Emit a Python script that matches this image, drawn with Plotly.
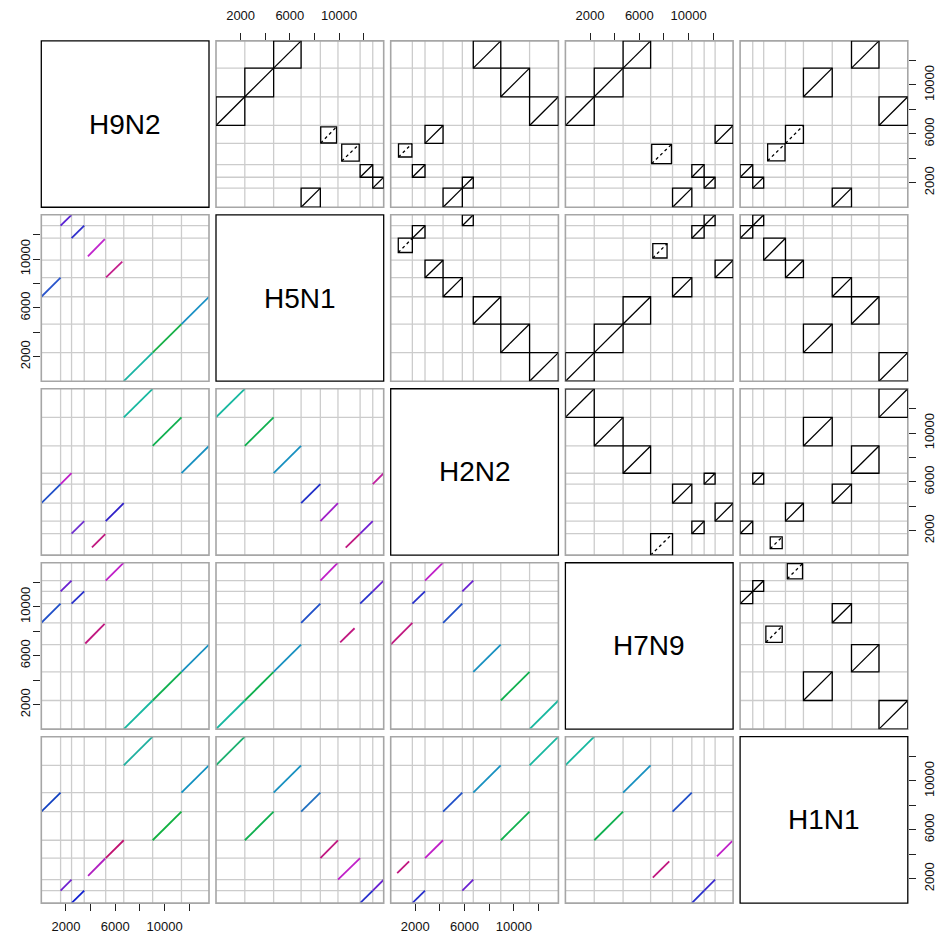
import plotly.graph_objects as go

# ---------------- data ----------------
genomes = ["H9N2", "H5N1", "H2N2", "H7N9", "H1N1"]

h9n2_segments = ["NP", "NS", "M", "HA", "NA", "PB2", "PB1", "PA"]
h9n2_lengths = [1565, 890, 1027, 1742, 1467, 2341, 2341, 2233]
h5n1_segments = ["PB2", "PB1", "PA", "NP", "NA", "HA", "M", "NS"]
h5n1_lengths = [2341, 2341, 2233, 1565, 1430, 1800, 1027, 890]
h2n2_segments = ["HA", "M", "NA", "NP", "NS", "PA", "PB1", "PB2"]
h2n2_lengths = [1760, 1027, 1467, 1565, 890, 2233, 2341, 2341]
h7n9_segments = ["PB2", "PB1", "PA", "HA", "NP", "M", "NS", "NA"]
h7n9_lengths = [2341, 2341, 2233, 1780, 1565, 1000, 890, 1460]
h1n1_segments = ["M", "NS", "HA", "NA", "PB1", "NP", "PA", "PB2"]
h1n1_lengths = [1027, 890, 1770, 1458, 2341, 1565, 2233, 2341]

tick_values = [2000, 4000, 6000, 8000, 10000, 12000]
tick_labels = ["2000", "", "6000", "", "10000", ""]

# hits: (segment, start fraction, end fraction, line style)
hits_h9n2_h5n1 = [("PB2", 0, 1, "solid"), ("PB1", 0, 1, "solid"), ("PA", 0, 1, "solid"),
                  ("NP", 0, 1, "solid"), ("NA", 0.02, 0.92, "dot"), ("HA", 0.17, 0.96, "dot"),
                  ("M", 0, 1, "solid"), ("NS", 0, 1, "solid")]
hits_h9n2_h2n2 = [("PB2", 0, 1, "solid"), ("PB1", 0, 1, "solid"), ("PA", 0, 1, "solid"),
                  ("NP", 0, 1, "solid"), ("NA", 0, 1, "solid"), ("HA", 0.36, 0.98, "dot"),
                  ("M", 0, 1, "solid"), ("NS", 0, 1, "solid")]
hits_h9n2_h7n9 = [("PB2", 0, 1, "solid"), ("PB1", 0, 1, "solid"), ("PA", 0, 1, "solid"),
                  ("NP", 0, 1, "solid"), ("NA", 0, 1, "solid"), ("HA", 0.05, 0.95, "dot"),
                  ("M", 0, 1, "solid"), ("NS", 0, 1, "solid")]
hits_h9n2_h1n1 = [("PB2", 0, 1, "solid"), ("PB1", 0, 1, "solid"), ("PA", 0, 1, "solid"),
                  ("NP", 0, 1, "solid"), ("NA", 0, 1, "dot"), ("HA", 0.18, 0.98, "dot"),
                  ("M", 0, 1, "solid"), ("NS", 0, 1, "solid")]
hits_h5n1_h2n2 = [("PB2", 0, 1, "solid"), ("PB1", 0, 1, "solid"), ("PA", 0, 1, "solid"),
                  ("NP", 0, 1, "solid"), ("NA", 0, 1, "solid"), ("HA", 0.35, 1, "dot"),
                  ("M", 0, 1, "solid"), ("NS", 0, 1, "solid")]
hits_h5n1_h7n9 = [("PB2", 0, 1, "solid"), ("PB1", 0, 1, "solid"), ("PA", 0, 1, "solid"),
                  ("NP", 0, 1, "solid"), ("NA", 0, 1, "solid"), ("HA", 0.1, 0.75, "dot"),
                  ("M", 0, 1, "solid"), ("NS", 0, 1, "solid")]
hits_h5n1_h1n1 = [("PB2", 0, 1, "solid"), ("PB1", 0, 1, "solid"), ("PA", 0, 1, "solid"),
                  ("NP", 0, 1, "solid"), ("NA", 0, 1, "solid"), ("HA", 0, 1, "solid"),
                  ("M", 0, 1, "solid"), ("NS", 0, 1, "solid")]
hits_h2n2_h7n9 = [("PB2", 0, 1, "solid"), ("PB1", 0, 1, "solid"), ("PA", 0, 1, "solid"),
                  ("NP", 0, 1, "solid"), ("NA", 0, 1, "solid"), ("HA", 0, 1, "dot"),
                  ("M", 0, 1, "solid"), ("NS", 0, 1, "solid")]
hits_h2n2_h1n1 = [("PB2", 0, 1, "solid"), ("PB1", 0, 1, "solid"), ("PA", 0, 1, "solid"),
                  ("NP", 0, 1, "solid"), ("NA", 0, 1, "solid"), ("HA", 0.3, 0.85, "dot"),
                  ("M", 0, 1, "solid"), ("NS", 0, 1, "solid")]
hits_h7n9_h1n1 = [("PB2", 0, 1, "solid"), ("PB1", 0, 1, "solid"), ("PA", 0, 1, "solid"),
                  ("NP", 0, 1, "solid"), ("NA", 0.1, 0.95, "dot"), ("HA", 0.1, 0.85, "dot"),
                  ("M", 0, 1, "solid"), ("NS", 0, 1, "solid")]

# lower-panel line colours (per segment)
colors_h9n2_h5n1 = {"NP": "#2a55cc", "NS": "#5a22d4", "M": "#3030cc", "HA": "#c026cc",
                    "NA": "#c4208c", "PB2": "#1ab4a4", "PB1": "#18b048", "PA": "#1a90c4"}
colors_h9n2_h2n2 = {"NP": "#2050c8", "NS": "#c020c8", "M": "#7030d0", "HA": "#c01880",
                    "NA": "#3020c8", "PB2": "#18b8a0", "PB1": "#10b050", "PA": "#1890c0"}
colors_h9n2_h7n9 = {"NP": "#2050c8", "NS": "#6a20d0", "M": "#2830cc", "HA": "#c01880",
                    "NA": "#c020c8", "PB2": "#18b8a0", "PB1": "#10b050", "PA": "#1890c0"}
colors_h9n2_h1n1 = {"NP": "#1040c0", "NS": "#7020d0", "M": "#1020d0", "HA": "#b020c0",
                    "NA": "#c01070", "PB2": "#20b0a0", "PB1": "#10b040", "PA": "#1090c0"}
colors_h5n1_h2n2 = {"NP": "#2030c8", "NS": "#c020a0", "M": "#7020d0", "HA": "#c01880",
                    "NA": "#a020c8", "PB2": "#18b8a0", "PB1": "#10b050", "PA": "#1890c0"}
colors_h5n1_h7n9 = {"NP": "#2050c8", "NS": "#6a20d0", "M": "#2830cc", "HA": "#c01880",
                    "NA": "#c020c8", "PB2": "#18b8a0", "PB1": "#10b050", "PA": "#1890c0"}
colors_h5n1_h1n1 = {"NP": "#2070c0", "NS": "#6a20d0", "M": "#2830cc", "HA": "#c020c8",
                    "NA": "#c01880", "PB2": "#1cb070", "PB1": "#10b050", "PA": "#1890c0"}
colors_h2n2_h7n9 = {"NP": "#2050c8", "NS": "#6a20d0", "M": "#2830cc", "HA": "#c01880",
                    "NA": "#c020c8", "PB2": "#18b8a0", "PB1": "#10b050", "PA": "#1890c0"}
colors_h2n2_h1n1 = {"NP": "#2050c8", "NS": "#6a20d0", "M": "#2830cc", "HA": "#c01880",
                    "NA": "#c020c8", "PB2": "#18b8a0", "PB1": "#10b050", "PA": "#1890c0"}
colors_h7n9_h1n1 = {"NP": "#2050c8", "NS": "#3a28d0", "M": "#2830cc", "HA": "#c01880",
                    "NA": "#c020c8", "PB2": "#18b8a0", "PB1": "#10b050", "PA": "#1890c0"}

# ---------------- assembly ----------------
seg_table = {
    "H9N2": (h9n2_segments, h9n2_lengths),
    "H5N1": (h5n1_segments, h5n1_lengths),
    "H2N2": (h2n2_segments, h2n2_lengths),
    "H7N9": (h7n9_segments, h7n9_lengths),
    "H1N1": (h1n1_segments, h1n1_lengths),
}
pair_hits = {
    ("H9N2", "H5N1"): (hits_h9n2_h5n1, colors_h9n2_h5n1),
    ("H9N2", "H2N2"): (hits_h9n2_h2n2, colors_h9n2_h2n2),
    ("H9N2", "H7N9"): (hits_h9n2_h7n9, colors_h9n2_h7n9),
    ("H9N2", "H1N1"): (hits_h9n2_h1n1, colors_h9n2_h1n1),
    ("H5N1", "H2N2"): (hits_h5n1_h2n2, colors_h5n1_h2n2),
    ("H5N1", "H7N9"): (hits_h5n1_h7n9, colors_h5n1_h7n9),
    ("H5N1", "H1N1"): (hits_h5n1_h1n1, colors_h5n1_h1n1),
    ("H2N2", "H7N9"): (hits_h2n2_h7n9, colors_h2n2_h7n9),
    ("H2N2", "H1N1"): (hits_h2n2_h1n1, colors_h2n2_h1n1),
    ("H7N9", "H1N1"): (hits_h7n9_h1n1, colors_h7n9_h1n1),
}


def seg_info(g):
    names, lens = seg_table[g]
    starts, pos = {}, 0
    for n, l in zip(names, lens):
        starts[n] = (pos, l)
        pos += l
    bounds, acc = [], 0
    for l in lens[:-1]:
        acc += l
        bounds.append(acc)
    return starts, bounds, pos


info = {g: seg_info(g) for g in genomes}

# page has an 8px body margin: the figure starts at (8, 8) of the window
OFF = 8
W, H = 943 - OFF, 939 - OFF
PW, PH = 167.7, 167.3
X0 = [41.3 - OFF + 174.7 * j for j in range(5)]
Y0 = [36.0 - OFF + 174.9 * i for i in range(5)]

fig = go.Figure()
layout = dict(width=W, height=H, margin=dict(l=0, r=0, t=0, b=0),
              paper_bgcolor="white", plot_bgcolor="white", showlegend=False)
shapes, annotations = [], []
FONT = "Liberation Sans, Arial, Helvetica, sans-serif"

for i, gr in enumerate(genomes):
    for j, gc in enumerate(genomes):
        k = i * 5 + j + 1
        xn = "x" if k == 1 else f"x{k}"
        yn = "y" if k == 1 else f"y{k}"
        xa = dict(domain=[X0[j] / W, (X0[j] + PW) / W], range=[0, info[gc][2]], anchor=yn,
                  showgrid=False, zeroline=False, showline=False, showticklabels=False,
                  ticks="", fixedrange=True)
        ya = dict(domain=[1 - (Y0[i] + PH) / H, 1 - Y0[i] / H], range=[0, info[gr][2]], anchor=xn,
                  showgrid=False, zeroline=False, showline=False, showticklabels=False,
                  ticks="", fixedrange=True)
        tick_common = dict(tickvals=tick_values, ticktext=tick_labels, ticks="outside",
                           ticklen=7, tickwidth=1, tickcolor="#222", showticklabels=True,
                           tickfont=dict(family=FONT, size=13, color="#111"))
        if i == 0 and j in (1, 3):
            xa.update(tick_common, side="top", ticklabelstandoff=8)
        if i == 4 and j in (0, 2):
            xa.update(tick_common, side="bottom", ticklabelstandoff=4)
        if j == 0 and i in (1, 3):
            ya.update(tick_common, side="left", tickangle=-90, ticklabelstandoff=-2)
        if j == 4 and i in (0, 2, 4):
            ya.update(tick_common, side="right", tickangle=-90, ticklabelstandoff=3)
        layout["xaxis" if k == 1 else f"xaxis{k}"] = xa
        layout["yaxis" if k == 1 else f"yaxis{k}"] = ya

        if i == j:
            # invisible anchor point so that the panel's axes are drawn
            fig.add_trace(go.Scatter(x=[info[gc][2] / 2], y=[info[gr][2] / 2], mode="markers",
                                     marker=dict(size=1, color="rgba(0,0,0,0)"),
                                     xaxis=xn, yaxis=yn, hoverinfo="skip"))
            shapes.append(dict(type="rect", xref=f"{xn} domain", yref=f"{yn} domain",
                               x0=0, x1=1, y0=0, y1=1, line=dict(color="black", width=1.3)))
            annotations.append(dict(text=gr, xref=f"{xn} domain", yref=f"{yn} domain",
                                    x=0.5, y=0.5, showarrow=False,
                                    font=dict(family=FONT, size=28, color="black")))
            continue

        # grid lines at segment boundaries
        gx, gy = [], []
        for b in info[gc][1]:
            gx += [b, b, None]
            gy += [0, info[gr][2], None]
        for b in info[gr][1]:
            gx += [0, info[gc][2], None]
            gy += [b, b, None]
        fig.add_trace(go.Scatter(x=gx, y=gy, mode="lines", xaxis=xn, yaxis=yn,
                                 line=dict(color="#cccccc", width=1.3), hoverinfo="skip"))
        shapes.append(dict(type="rect", xref=f"{xn} domain", yref=f"{yn} domain",
                           x0=0, x1=1, y0=0, y1=1, line=dict(color="#a6a6a6", width=1.6)))

        key = (gr, gc) if (gr, gc) in pair_hits else (gc, gr)
        hits, cols = pair_hits[key]
        for seg, f0, f1, style in hits:
            sx, lx = info[gc][0][seg]
            sy, ly = info[gr][0][seg]
            xs, xe = sx + f0 * lx, sx + f1 * lx
            ys, ye = sy + f0 * ly, sy + f1 * ly
            if i < j:  # upper panel: boxes with diagonal
                shapes.append(dict(type="rect", xref=xn, yref=yn, x0=xs, x1=xe, y0=ys, y1=ye,
                                   line=dict(color="black", width=1.3)))
                fig.add_trace(go.Scatter(x=[xs, xe], y=[ys, ye], mode="lines", xaxis=xn, yaxis=yn,
                                         line=dict(color="black", width=1.3,
                                                   dash="solid" if style == "solid" else "dot"),
                                         hoverinfo="skip"))
            else:  # lower panel: coloured lines
                fig.add_trace(go.Scatter(x=[xs, xe], y=[ys, ye], mode="lines", xaxis=xn, yaxis=yn,
                                         line=dict(color=cols[seg], width=1.8), hoverinfo="skip"))

layout["shapes"] = shapes
layout["annotations"] = annotations
fig.update_layout(**layout)
fig.write_html("out.html")
